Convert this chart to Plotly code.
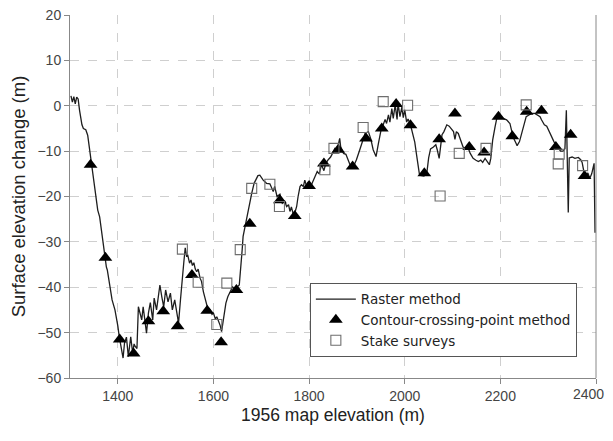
import plotly.graph_objects as go

# Raster method (continuous profile)
raster_x = [1302, 1305, 1308, 1311, 1314, 1317, 1320, 1325, 1328, 1333, 1337, 1340, 1345, 1352, 1358,
            1362, 1366, 1372, 1376, 1378, 1383, 1388, 1394, 1397, 1400, 1403, 1408, 1411, 1414, 1418,
            1422, 1427, 1431, 1434, 1436, 1440, 1443, 1446, 1450, 1453, 1457, 1460, 1464, 1468, 1473,
            1476, 1481, 1484, 1488, 1492, 1496, 1500, 1505, 1510, 1514, 1519, 1523, 1527, 1531, 1534,
            1538, 1541, 1544, 1546, 1550, 1553, 1556, 1559, 1562, 1565, 1568, 1572, 1575, 1579, 1583,
            1587, 1593, 1597, 1600, 1604, 1607, 1611, 1614, 1617, 1620, 1623, 1626, 1630, 1633, 1637,
            1640, 1644, 1649, 1654, 1657, 1660, 1662, 1666, 1670, 1673, 1676, 1680, 1685, 1690, 1693,
            1697, 1704, 1711, 1718, 1725, 1728, 1733, 1739, 1744, 1749, 1753, 1757, 1760, 1763, 1768,
            1774, 1777, 1781, 1784, 1788, 1791, 1795, 1798, 1802, 1807, 1812, 1817, 1821, 1826, 1831,
            1835, 1840, 1845, 1849, 1854, 1859, 1864, 1866, 1872, 1877, 1882, 1887, 1892, 1899, 1906,
            1912, 1917, 1924, 1929, 1934, 1940, 1945, 1950, 1955, 1959, 1962, 1966, 1969, 1973, 1976,
            1980, 1984, 1986, 1990, 1994, 1997, 2000, 2004, 2007, 2012, 2017, 2021, 2025, 2028, 2031,
            2040, 2046, 2050, 2054, 2060, 2065, 2068, 2072, 2075, 2078, 2082, 2088, 2093, 2098, 2102,
            2105, 2108, 2112, 2117, 2122, 2128, 2133, 2137, 2143, 2149, 2154, 2159, 2163, 2168, 2172,
            2177, 2180, 2184, 2189, 2194, 2199, 2206, 2213, 2220, 2224, 2228, 2233, 2235, 2240, 2245,
            2249, 2254, 2259, 2265, 2272, 2277, 2283, 2286, 2292, 2297, 2302, 2307, 2312, 2316, 2321,
            2326, 2331, 2335, 2338, 2340, 2342, 2344, 2350, 2356, 2363, 2368, 2371, 2375, 2378, 2383,
            2387, 2391, 2394, 2396, 2398]
raster_y = [2.2, 0.8, 2.0, 0.4, 1.9, 1.5, -1.0, -4.2, -5.0, -5.3, -6.5, -9.0, -12.7, -19.2, -23.0,
            -24.5, -27.5, -33.0, -35.5, -36.2, -39.1, -42.8, -45.0, -46.5, -48.5, -50.9, -54.5, -55.6, -52.3, -51.0,
            -55.3, -50.9, -54.5, -52.5, -53.0, -53.5, -44.3, -45.7, -47.2, -44.3, -47.9, -50.1, -45.7, -43.4, -47.2,
            -42.4, -45.0, -42.1, -39.5, -42.1, -44.3, -40.6, -43.2, -41.3, -45.0, -42.8, -45.7, -47.9, -42.8, -39.9,
            -34.5, -31.3, -33.3, -32.8, -34.7, -34.0, -35.2, -34.6, -36.0, -36.6, -36.0, -38.0, -38.7, -41.0, -42.5,
            -44.3, -45.0, -46.0, -45.7, -47.0, -46.5, -47.7, -48.4, -49.8, -47.7, -44.6, -43.5, -42.1, -41.5, -40.6,
            -39.9, -40.3, -40.0, -39.5, -36.2, -31.8, -28.8, -26.6, -24.4, -23.0, -21.1, -19.3, -17.1, -16.0, -15.4,
            -15.3, -16.4, -17.1, -17.2, -18.9, -17.8, -20.0, -19.5, -21.5, -21.0, -22.2, -21.8, -23.3, -22.3, -24.4,
            -22.2, -20.0, -17.8, -17.4, -17.8, -16.4, -17.8, -16.8, -18.2, -16.9, -15.6, -14.5, -15.0, -13.0, -14.3,
            -12.7, -11.9, -11.3, -10.5, -9.4, -9.6, -7.2, -9.0, -10.5, -10.7, -11.9, -13.4, -13.6, -11.9, -9.7,
            -7.5, -6.1, -5.7, -7.3, -9.7, -11.2, -8.3, -5.6, -4.2, -3.0, -3.9, -2.0, -3.6, -0.6, -2.8,
            0.2, -3.0, 0.6, -2.4, -0.3, -2.6, -0.9, -3.6, -2.9, -4.2, -6.1, -8.0, -11.0, -13.4, -15.3,
            -15.5, -15.0, -11.5, -9.5, -9.1, -8.6, -9.7, -11.6, -9.0, -6.4, -5.7, -4.2, -4.5, -5.3, -5.7,
            -7.4, -5.7, -6.1, -7.5, -9.1, -9.5, -9.4, -10.5, -11.6, -12.0, -12.3, -12.0, -12.5, -11.6, -12.3,
            -13.0, -11.6, -7.5, -4.6, -2.0, -2.2, -2.8, -3.1, -3.9, -5.7, -7.2, -8.3, -8.8, -7.9, -5.7,
            -3.9, -2.4, -2.1, -1.7, -1.7, -2.0, -2.4, -3.1, -4.2, -4.5, -5.7, -6.8, -7.9, -8.6, -9.4,
            -10.0, -10.0, -9.5, -1.0, -11.0, -23.5, -11.5, -11.3, -11.6, -11.4, -11.9, -12.5, -14.7, -15.5, -14.8,
            -16.0, -15.0, -13.0, -12.7, -28.0]

# Contour-crossing-point method
contour_x = [1343, 1374, 1404, 1433, 1464, 1495, 1525, 1555, 1587, 1616, 1648, 1676, 1739, 1770, 1800,
             1831, 1861, 1891, 1919, 1952, 1982, 2012, 2041, 2072, 2105, 2135, 2166, 2196, 2225, 2255,
             2286, 2316, 2347, 2376]
contour_y = [-13.0, -33.5, -51.5, -54.6, -47.5, -45.3, -48.6, -37.3, -45.2, -52.1, -40.6, -26.0, -20.8, -24.3, -17.7,
             -12.7, -9.7, -13.4, -7.2, -5.0, 0.4, -4.3, -14.9, -7.4, -1.7, -9.1, -10.3, -2.4, -6.7, -1.3,
             -1.1, -9.1, -6.4, -15.5]

# Stake surveys
stake_x = [1535, 1568, 1607, 1628, 1656, 1680, 1718, 1738, 1833, 1852, 1913, 1955, 2006, 2074, 2114,
           2170, 2254, 2321, 2323, 2372]
stake_y = [-31.6, -38.9, -48.2, -39.1, -31.7, -18.2, -17.3, -22.2, -14.1, -9.4, -4.8, 0.9, 0.1, -19.9, -10.5,
           -9.4, 0.2, -12.8, -10.7, -13.2]

x_ticks = [1400, 1600, 1800, 2000, 2200, 2400]
x_tick_labels = ["1400", "1600", "1800", "2000", "2200", "2400"]
y_ticks = [-60, -50, -40, -30, -20, -10, 0, 10, 20]

FONT = "Liberation Sans, Arial, sans-serif"
TICKFONT = dict(family=FONT, size=14, color="#444444")

fig = go.Figure()
fig.add_trace(go.Scatter(x=raster_x, y=raster_y, mode="lines", name="Raster method",
                         line=dict(color="#1e1e1e", width=1.3)))
fig.add_trace(go.Scatter(x=contour_x, y=contour_y, mode="markers", name="Contour-crossing-point method",
                         marker=dict(symbol="triangle-up", size=12, color="black",
                                     line=dict(width=0))))
fig.add_trace(go.Scatter(x=stake_x, y=stake_y, mode="markers", name="Stake surveys",
                         marker=dict(symbol="square-open", size=10, color="#6e6e6e",
                                     line=dict(width=1.1))))

# last x tick label is drawn right-aligned so it stays inside the visible page
shown_labels = x_tick_labels[:-1] + [""]
fig.add_annotation(x=x_ticks[-1], xref="x", y=0, yref="paper", yanchor="top", xanchor="right",
                   text=x_tick_labels[-1], showarrow=False, font=TICKFONT,
                   xshift=9, yshift=-7, borderpad=0)

fig.update_layout(
    width=605, height=417,
    margin=dict(l=62, r=17, t=7, b=47, autoexpand=False),
    paper_bgcolor="white", plot_bgcolor="white",
    font=dict(family=FONT, color="#333333", size=14),
    showlegend=True,
    legend=dict(x=0.456, y=0.262, xanchor="left", yanchor="top",
                bordercolor="#555555", borderwidth=1, bgcolor="white",
                font=dict(family="DejaVu Sans, sans-serif", size=13.5, color="#222222"),
                tracegroupgap=0, itemwidth=40),
    xaxis=dict(range=[1300, 2400], tickvals=x_ticks, ticktext=shown_labels,
               ticks="outside", ticklen=5,
               tickcolor="#888888", showline=True, linecolor="#888888", linewidth=1,
               showgrid=True, gridcolor="#cfcfcf", griddash="dash", gridwidth=1,
               zeroline=False, tickfont=TICKFONT, automargin=False,
               ticklabeloverflow="allow",
               title=dict(text="1956 map elevation (m)", font=dict(size=17.5, color="#222222"),
                          standoff=8)),
    yaxis=dict(range=[-60, 20], tickvals=y_ticks, ticks="outside", ticklen=5,
               tickcolor="#888888", showline=True, linecolor="#888888", linewidth=1,
               showgrid=True, gridcolor="#cfcfcf", griddash="dash", gridwidth=1,
               zeroline=False, tickfont=TICKFONT, automargin=False,
               ticklabeloverflow="allow",
               title=dict(text="Surface elevation change (m)", font=dict(size=18.5, color="#222222"),
                          standoff=15)),
    shapes=[dict(type="line", xref="paper", yref="paper", x0=1, x1=1, y0=0, y1=1,
                 line=dict(color="#888888", width=1))],
)

fig.write_html("out.html")
